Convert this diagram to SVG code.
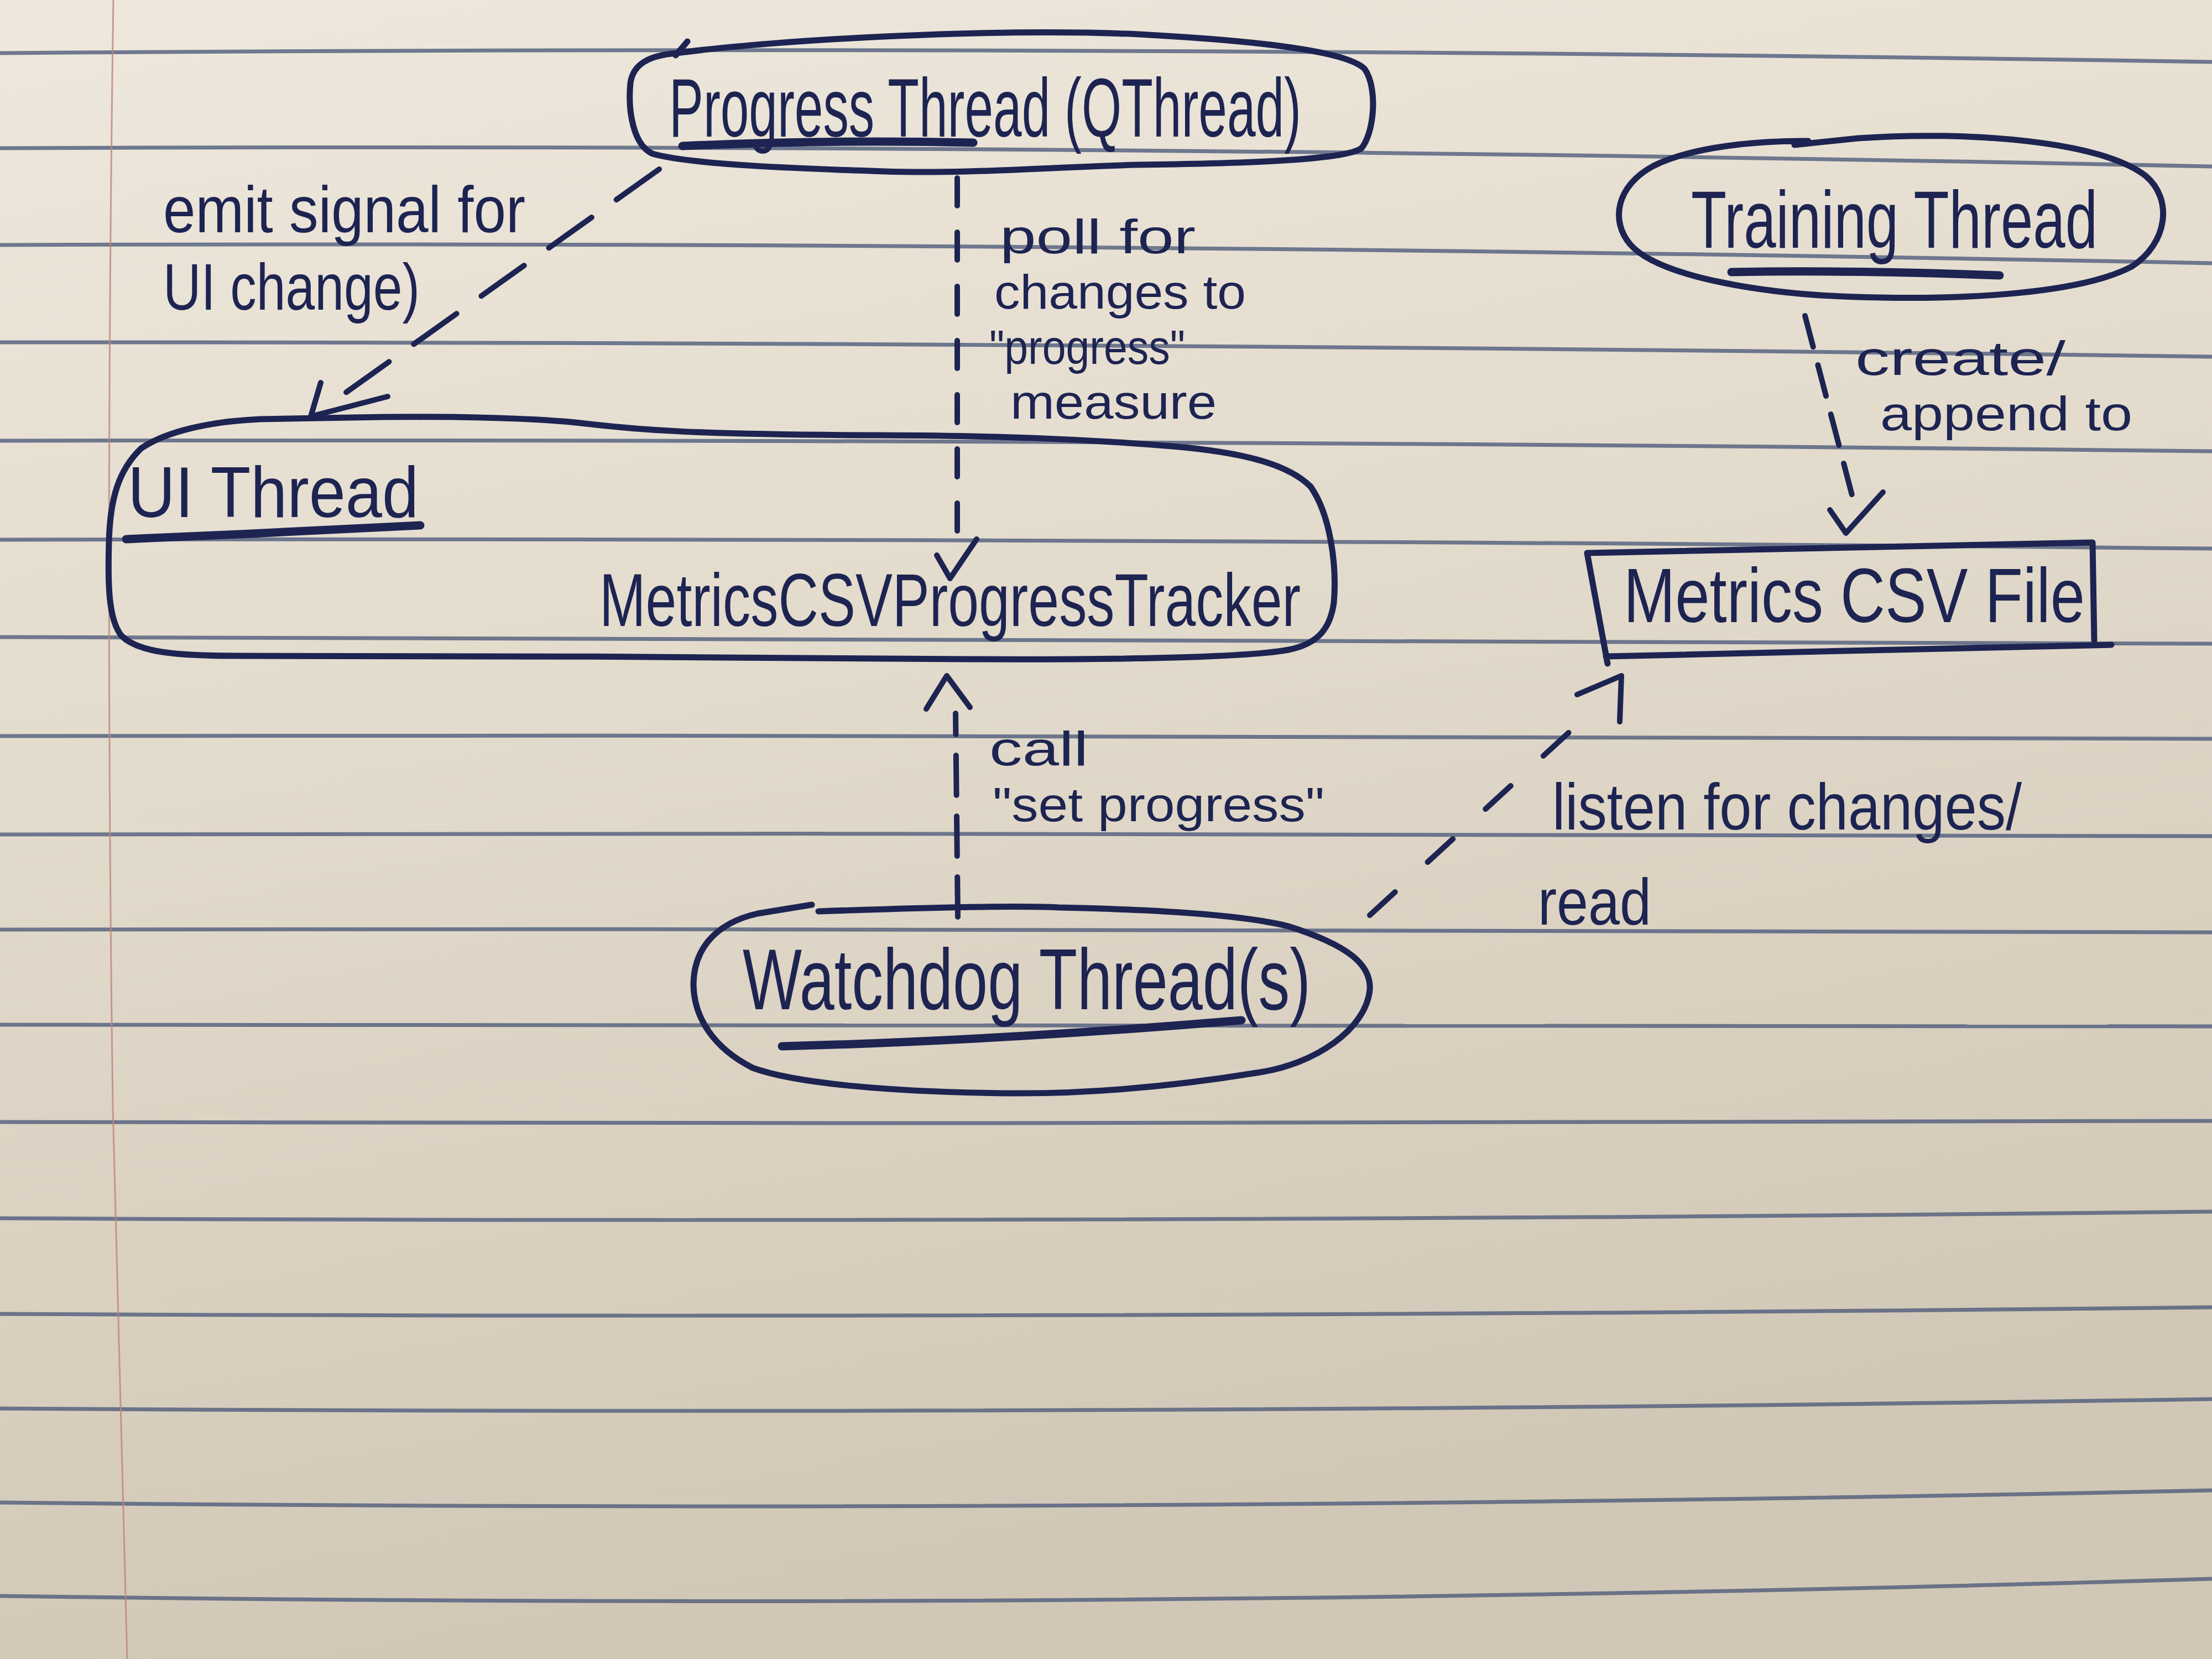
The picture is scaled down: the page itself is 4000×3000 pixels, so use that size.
<svg xmlns="http://www.w3.org/2000/svg" width="4000" height="3000" viewBox="0 0 4000 3000">
<defs>
<linearGradient id="paper" x1="0" y1="0" x2="0.25" y2="1">
<stop offset="0" stop-color="#eee8dd"/>
<stop offset="0.45" stop-color="#e3dbcc"/>
<stop offset="1" stop-color="#d1c7b6"/>
</linearGradient>
<style>
.rule{fill:none;stroke:#4f5c7c;stroke-width:7;stroke-opacity:0.8}
.margin{fill:none;stroke:#c0847a;stroke-width:3;stroke-opacity:0.8}
.ink{fill:none;stroke:#1d2452;stroke-width:11;stroke-linecap:round;stroke-linejoin:round}
.uline{fill:none;stroke:#1d2452;stroke-width:15;stroke-linecap:round}
.dash{fill:none;stroke:#1d2452;stroke-width:10;stroke-linecap:round}
.head{fill:none;stroke:#1d2452;stroke-width:10;stroke-linecap:round;stroke-linejoin:round}
text{font-family:"Liberation Sans","DejaVu Sans",sans-serif;fill:#1d2452}
.lbl{font-size:118px}
.sm{font-size:88px}
</style>
</defs>
<g id="paper-bg">
<rect x="0" y="0" width="4000" height="3000" fill="url(#paper)"/>
<path class="rule" d="M0,96 Q2000,80 4000,112"/>
<path class="rule" d="M0,268 Q2000,259 4000,301"/>
<path class="rule" d="M0,443 Q2000,436 4000,476"/>
<path class="rule" d="M0,619 Q2000,618 4000,645"/>
<path class="rule" d="M0,797 Q2000,793 4000,816"/>
<path class="rule" d="M0,976 Q2000,972 4000,992"/>
<path class="rule" d="M0,1152 Q2000,1156 4000,1164"/>
<path class="rule" d="M0,1331 Q2000,1328 4000,1336"/>
<path class="rule" d="M0,1509 Q2000,1505 4000,1512"/>
<path class="rule" d="M0,1681 Q2000,1678 4000,1686"/>
<path class="rule" d="M0,1853 Q2000,1853 4000,1856"/>
<path class="rule" d="M0,2029 Q2000,2034 4000,2027"/>
<path class="rule" d="M0,2203 Q2000,2213 4000,2191"/>
<path class="rule" d="M0,2376 Q2000,2386 4000,2364"/>
<path class="rule" d="M0,2547 Q2000,2561 4000,2530"/>
<path class="rule" d="M0,2717 Q2000,2738 4000,2695"/>
<path class="rule" d="M0,2886 Q2000,2915 4000,2855"/>
<path class="margin" d="M205,0 Q190,1000 204,2000 Q215,2500 230,3000"/>
</g>
<g id="connectors">
<g id="edge-progress-ui">
<path class="dash" d="M1192,306 L600,728" stroke-dasharray="95 55"/>
<path class="head" d="M580,692 L562,753 L701,717"/>
</g>
<g id="edge-progress-tracker">
<path class="dash" d="M1731,322 L1731,970" stroke-dasharray="50 48"/>
<path class="head" d="M1694,1004 L1718,1046 L1766,975"/>
</g>
<g id="edge-watchdog-tracker">
<path class="dash" d="M1732,1658 L1728,1290" stroke-dasharray="72 38"/>
<path class="head" d="M1675,1282 L1712,1222 L1754,1279"/>
</g>
<g id="edge-training-csv">
<path class="dash" d="M3264,571 L3355,918" stroke-dasharray="58 34"/>
<path class="head" d="M3309,922 L3338,964 L3405,890"/>
</g>
<g id="edge-watchdog-csv">
<path class="dash" d="M2477,1655 L2855,1308" stroke-dasharray="62 80"/>
<path class="head" d="M2852,1256 L2932,1222 L2929,1305"/>
</g>
<text class="lbl" x="295" y="420" textLength="655" lengthAdjust="spacingAndGlyphs">emit signal for</text>
<text class="lbl" x="295" y="560" textLength="464" lengthAdjust="spacingAndGlyphs">UI change)</text>
<text class="sm" x="1808" y="458" textLength="354" lengthAdjust="spacingAndGlyphs">poll for</text>
<text class="sm" x="1798" y="558" textLength="455" lengthAdjust="spacingAndGlyphs">changes to</text>
<text class="sm" x="1789" y="658" textLength="354" lengthAdjust="spacingAndGlyphs">"progress"</text>
<text class="sm" x="1827" y="757" textLength="373" lengthAdjust="spacingAndGlyphs">measure</text>
<text class="sm" x="3355" y="678" textLength="380" lengthAdjust="spacingAndGlyphs">create/</text>
<text class="sm" x="3400" y="778" textLength="456" lengthAdjust="spacingAndGlyphs">append to</text>
<text class="sm" x="1789" y="1384" textLength="179" lengthAdjust="spacingAndGlyphs">call</text>
<text class="sm" x="1795" y="1485" textLength="600" lengthAdjust="spacingAndGlyphs">"set progress"</text>
<text class="lbl" x="2807" y="1500" textLength="849" lengthAdjust="spacingAndGlyphs">listen for changes/</text>
<text class="lbl" x="2781" y="1672" textLength="205" lengthAdjust="spacingAndGlyphs">read</text>
</g>
<g id="node-progress-thread">
<path class="ink" d="M1224,96 C1400,72 1800,50 2060,62 C2300,75 2440,95 2468,125 C2492,160 2485,240 2462,268 C2430,292 2200,296 2057,298 C1900,302 1750,315 1600,310 C1450,305 1250,298 1180,278 C1145,262 1135,200 1140,150 C1145,115 1175,100 1224,96 M1243,75 L1222,100"/>
<text x="1210" y="247" font-size="150" textLength="1143" lengthAdjust="spacingAndGlyphs">Progress Thread (QThread)</text>
<path class="uline" d="M1234,264 Q1500,252 1760,258"/>
</g>
<g id="node-training-thread">
<path class="ink" d="M3245,262 L3360,250 C3560,236 3800,255 3880,318 C3930,360 3920,440 3855,482 C3760,532 3550,541 3400,538 C3200,536 3000,502 2948,442 C2912,400 2922,336 2990,300 C3060,265 3180,254 3270,255"/>
<text x="3058" y="448" font-size="146" textLength="735" lengthAdjust="spacingAndGlyphs">Training Thread</text>
<path class="uline" d="M3131,492 Q3350,488 3616,498"/>
</g>
<g id="node-ui-thread">
<path class="ink" d="M255,811 C300,780 380,762 470,758 L638,755 C800,752 960,755 1050,765 C1150,777 1250,786 1594,787 C1800,788 1950,793 2120,807 C2250,818 2330,840 2370,880 C2405,930 2418,1020 2412,1090 C2405,1140 2380,1165 2330,1175 C2250,1190 2000,1193 1754,1192 C1400,1190 800,1184 430,1186 C320,1186 250,1180 220,1150 C195,1120 195,1050 197,980 C199,900 215,850 255,811 Z"/>
<text x="231" y="935" font-size="130" textLength="526" lengthAdjust="spacingAndGlyphs">UI Thread</text>
<path class="uline" d="M228,975 C400,968 600,958 760,950"/>
<text x="1084" y="1132" font-size="135" textLength="1268" lengthAdjust="spacingAndGlyphs">MetricsCSVProgressTracker</text>
</g>
<g id="node-metrics-csv-file">
<path class="ink" d="M2907,1200 L2870,1000 L3784,981 L3787,1158 M3818,1166 L2904,1187"/>
<text x="2936" y="1125" font-size="140" textLength="834" lengthAdjust="spacingAndGlyphs">Metrics CSV File</text>
</g>
<g id="node-watchdog-thread">
<path class="ink" d="M1480,1648 C1700,1640 1850,1638 1914,1641 C2100,1645 2250,1655 2330,1675 C2440,1710 2480,1745 2477,1790 C2470,1860 2380,1925 2272,1940 C2100,1968 1950,1978 1825,1977 C1620,1975 1440,1960 1361,1931 C1290,1895 1255,1840 1254,1781 C1254,1720 1290,1670 1370,1652 L1468,1636"/>
<text x="1343" y="1825" font-size="155" textLength="1027" lengthAdjust="spacingAndGlyphs">Watchdog Thread(s)</text>
<path class="uline" d="M1414,1892 Q1800,1882 2245,1845"/>
</g>
</svg>
